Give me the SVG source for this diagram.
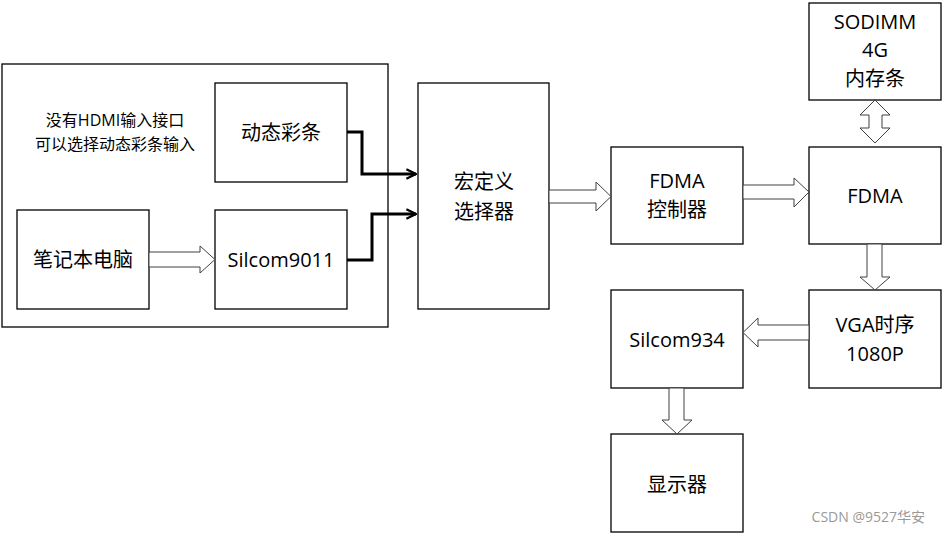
<svg xmlns="http://www.w3.org/2000/svg" width="942" height="534" viewBox="0 0 942 534">
<style>
.b{fill:#fff;stroke:#000;stroke-width:1.3}
.t{font-family:"Open Sans","Noto Sans CJK SC",sans-serif;font-size:20px;text-anchor:middle;fill:#000}
.ba{fill:#fff;stroke:#404040;stroke-width:1}
.c{fill:none;stroke:#000;stroke-width:3}
</style>
<defs><marker id="ah" viewBox="0 0 10 10" refX="9" refY="5" markerWidth="4" markerHeight="4" orient="auto" markerUnits="strokeWidth"><path d="M1,1 L9,5 L1,9" fill="none" stroke="#000" stroke-width="2"/></marker></defs>
<rect width="942" height="534" fill="#fff"/>
<rect x="2" y="64" width="386" height="263" fill="none" stroke="#000" stroke-width="1.3"/>
<text class="t" style="font-size:16px" x="115" y="126">没有HDMI输入接口</text>
<text class="t" style="font-size:16px" x="115" y="150">可以选择动态彩条输入</text>
<g id="n1"><rect class="b" x="215" y="83" width="132" height="99"/><text class="t" x="281" y="140">动态彩条</text></g>
<g id="n2"><rect class="b" x="17" y="210" width="132" height="99"/><text class="t" x="83" y="267">笔记本电脑</text></g>
<g id="n3"><rect class="b" x="215" y="210" width="132" height="99"/><text class="t" x="281" y="267">Silcom9011</text></g>
<g id="n4"><rect class="b" x="418" y="83" width="131" height="226"/><text class="t" x="484" y="189">宏定义</text><text class="t" x="484" y="219">选择器</text></g>
<g id="n5"><rect class="b" x="611" y="147" width="132" height="97"/><text class="t" x="677" y="188">FDMA</text><text class="t" x="677" y="217">控制器</text></g>
<g id="n6"><rect class="b" x="809" y="147" width="132" height="97"/><text class="t" x="875" y="203">FDMA</text></g>
<g id="n7"><rect class="b" x="809" y="3" width="132" height="97"/><text class="t" x="875" y="29">SODIMM</text><text class="t" x="875" y="57">4G</text><text class="t" x="875" y="86">内存条</text></g>
<g id="n8"><rect class="b" x="809" y="290" width="132" height="98"/><text class="t" x="875" y="332">VGA时序</text><text class="t" x="875" y="361">1080P</text></g>
<g id="n9"><rect class="b" x="611" y="290" width="132" height="98"/><text class="t" x="677" y="347">Silcom934</text></g>
<g id="n10"><rect class="b" x="611" y="434" width="132" height="98"/><text class="t" x="677" y="492">显示器</text></g>
<g id="connectors">
<path class="ba" d="M149,252 H200 V246 L215,259.5 L200,273 V267 H149 Z"/>
<path class="ba" d="M549,190 H596 V182 L611,196.5 L596,211 V203 H549 Z"/>
<path class="ba" d="M743,185 H794 V178 L809,192 L794,207 V199 H743 Z"/>
<path class="ba" d="M869,115 H860 L875,100 L890,115 H882 V128 H890 L875,143 L860,128 H869 Z"/>
<path class="ba" d="M867,244 H882 V277 H890 L875,290 L860,277 H867 Z"/>
<path class="ba" d="M809,325 V340 H758 V347 L743,332.5 L758,318 V325 Z"/>
<path class="ba" d="M669,388 H684 V420 H692 L677,434 L662,420 H669 Z"/>
<path class="c" marker-end="url(#ah)" d="M347,132 H362 V174 H416"/>
<path class="c" marker-end="url(#ah)" d="M347,260 H372 V214 H416"/>
</g>
<text x="925" y="522" style="font-family:'Open Sans','Noto Sans CJK SC',sans-serif;font-size:14px;text-anchor:end;fill:#999">CSDN @9527华安</text>
</svg>
